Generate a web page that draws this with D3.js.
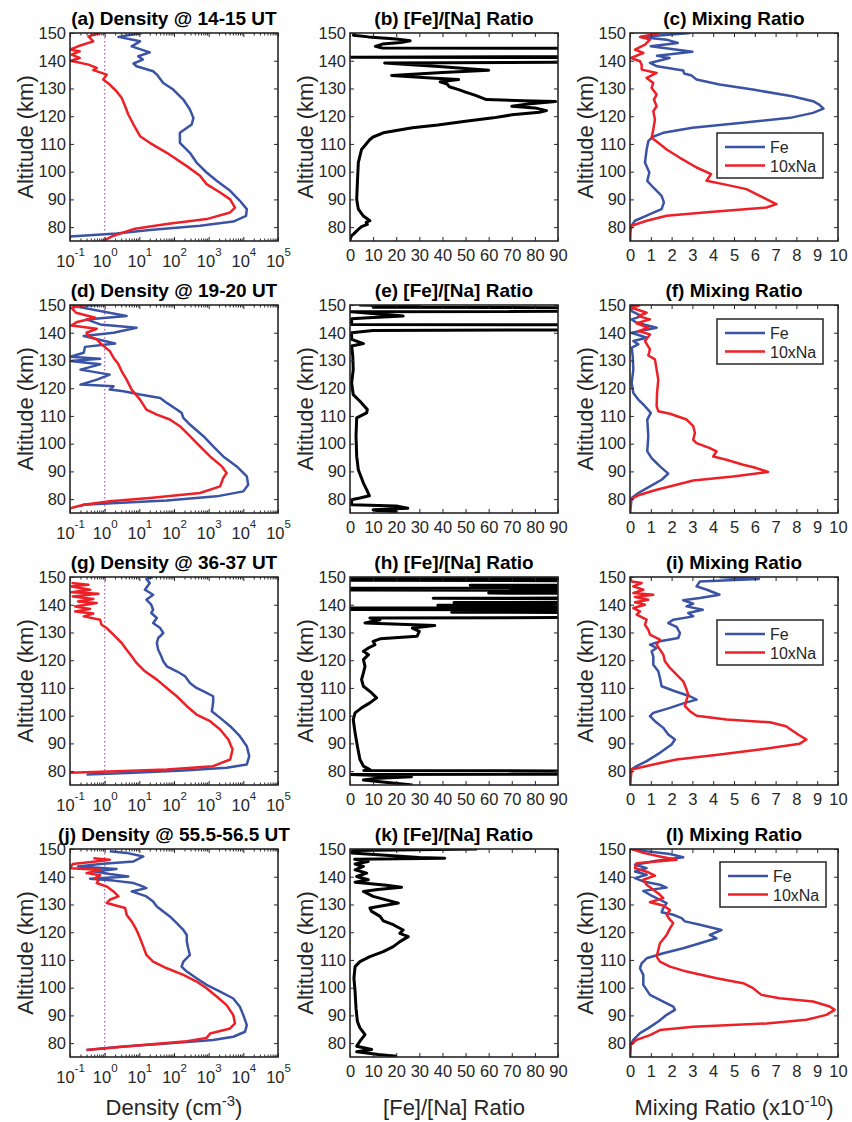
<!DOCTYPE html>
<html>
<head>
<meta charset="utf-8">
<script src="https://cdn.jsdelivr.net/npm/d3@7"></script>
<style>
body { margin: 0; background: #fff; }
text { font-family: "Liberation Sans", Arial, sans-serif; }
</style>
</head>
<body>
<div id="chart"></div>
<script>
// profiles: [altitude km, value]
const densA_Fe = [[150,12],[148.6,2.5],[147,10.5],[145.2,6],[143,20],[141.6,9.3],[140.4,12.6],[139,6.8],[138,8.3],[136.2,25],[135,32],[132,49],[129.6,95],[126,186],[122.4,288],[119.4,363],[117,324],[114,148],[110.4,148],[106.8,288],[103.3,447],[99.7,871],[96.7,1700],[93.1,4170],[89.5,7940],[86.5,12600],[84.1,12000],[82,5130],[80.5,562],[79,20],[77.7,2.2],[76.6,0.1]]
const densA_Na = [[150,0.74],[148.8,0.34],[147,0.47],[145.2,0.17],[144,0.1],[143.4,0.19],[142.2,0.11],[141,0.19],[140,0.105],[138.6,0.34],[137.4,0.59],[136.6,0.47],[135,1.15],[133.2,0.91],[131.4,1.4],[129,2.2],[126.6,3.1],[123.6,3.9],[120.6,4.8],[117,6.8],[112.8,10.5],[110.4,20],[106.8,62],[102,234],[98.5,562],[95.5,871],[92.5,2140],[90,4170],[87,5750],[85.3,4170],[82.9,871],[81.1,62],[79.3,6.8],[76.9,1.8],[74.7,0.81]]
const ratioB = [[150,2],[149.2,1.5],[148.6,8],[147.8,20],[147.2,26],[146.6,22],[146,14],[145.2,11],[144.6,14],[144.2,300],[143.6,300],[141.8,300],[141.3,0.5],[140.9,300],[140.2,300],[139.2,15],[137.8,40],[136.6,60],[135.8,40],[134.7,18],[133.8,35],[133.2,47],[132.4,39],[131.6,42],[130.6,43],[129.6,47],[128.7,50],[127.6,54],[127,56],[126,59],[125.6,75],[125.3,89],[124.5,78],[123.6,70],[123,80],[122,85],[121.4,82],[120.5,70],[119.4,62],[118.2,50],[116.8,38],[115.8,27],[114,14.4],[112.5,10],[111.6,8.6],[108,5],[103.3,3.6],[96,3.2],[90,2.9],[86.5,3.6],[84,5.8],[82.3,8.6],[81.7,7],[81,7.5],[80.2,5],[79.2,3.6],[77.5,1.5],[76.9,0.7],[76,0.2],[75,0]]
const mixC_Fe = [[150,2.9],[148.6,0.5],[147.6,1.76],[146.4,2.3],[145.2,1.0],[143.2,3.0],[141.8,1.3],[141,1.9],[139.2,0.96],[138,1.3],[136.5,2.56],[135.4,2.6],[134.7,2.96],[133.2,3.2],[131.4,4.3],[129.6,5.9],[127.2,7.8],[125.4,8.8],[124.2,9.1],[122.7,9.3],[121.2,8.8],[119.4,7.7],[117.6,5.4],[115.8,3.0],[114,1.6],[112.6,1.1],[111,0.88],[108,0.8],[103.3,0.72],[99.7,0.93],[96.7,0.83],[94.3,1.12],[91.3,1.52],[88.9,1.63],[86.5,1.52],[84.7,0.96],[82.3,0.24],[80,0.03],[75,0]]
const mixC_Na = [[150,1.44],[148.6,0.48],[147.6,0.96],[145.8,0.72],[144,0.24],[142.8,0.64],[141,0.05],[139.8,0.48],[138.6,0.56],[136.8,0.56],[135.6,1.28],[133.8,0.8],[132,1.12],[130.2,1.04],[127.8,1.28],[126,1.15],[123.6,1.28],[121.8,1.12],[118.8,1.2],[115.2,1.12],[112.2,1.04],[110.4,1.36],[108,1.76],[105,2.4],[101.5,3.2],[99.1,3.9],[96.7,3.68],[95.5,4.48],[93.7,5.6],[91.3,6.24],[89.5,6.72],[88.3,7.04],[87.1,6.56],[85.5,3.84],[84.1,1.76],[82.3,0.8],[80.5,0.08],[78,0],[75,0]]

const densD_Fe = [[150,0.74],[149.8,0.3],[149.6,0.13],[146,4.3],[144.8,0.3],[143,0.74],[141.8,8.3],[140,1.8],[138.8,0.25],[136.1,2],[134.9,0.27],[132.8,0.25],[131.3,0.1],[130.6,0.74],[129.8,0.1],[128.6,0.74],[126.7,0.2],[124.9,1.4],[123.1,0.6],[121.3,0.2],[120.7,1.8],[119.5,1.4],[118.9,3.5],[117.7,10.5],[116.5,40],[114.7,62],[112.3,120],[111.1,166],[109.3,186],[106.9,288],[102.7,708],[99,1350],[95.4,2630],[91.8,6460],[88.2,12600],[85.2,13800],[82.8,10000],[81,1700],[79.5,62],[78.6,2.2],[78,0.25],[77.5,0.2]]
const densD_Na = [[150,0.3],[149,0.11],[147.2,0.15],[145.4,0.53],[143.9,0.16],[142.6,0.11],[141.4,0.59],[140,0.3],[138.8,0.34],[137.6,0.59],[135.8,0.81],[133.4,1.4],[131,1.8],[128.6,2.5],[126.1,3.1],[123.1,4.3],[119.5,6],[115.9,10.5],[112.3,16],[110.5,32],[108.7,76],[106.3,148],[102.7,288],[99,562],[95.4,1100],[91.8,2400],[89.4,3300],[87.6,2630],[84.6,2140],[82.2,562],[80.4,20],[79.2,1.4],[78,0.25],[76.7,0.1]]
const ratioE = [[150,4],[149.6,30],[149.2,10],[148.6,300],[148,300],[147.6,0.5],[146.6,15],[146,23],[145.4,8],[145,0.7],[143,0.7],[142.6,300],[141.6,300],[140.8,10],[140,0.7],[137.6,0.7],[136.1,5.8],[135.2,0.7],[131.6,1.2],[126.7,1.4],[121.9,0.7],[117.7,1.4],[115.3,4.3],[112.3,7.5],[111.1,7.2],[109.3,2.9],[102.7,2.6],[95.4,2.9],[90.6,3.6],[85.8,5.8],[83.4,7.2],[81.2,8.4],[80.4,4.3],[79.8,0.7],[78,0.7],[77.5,20],[76.7,25],[76.2,10],[75.9,11.5],[75.5,20],[75.1,18.7]]
const mixF_Fe = [[150,0.08],[147.8,0.08],[146,0.56],[144.8,0.08],[143.6,0.32],[141.8,1.28],[140,0.08],[138.2,0.8],[137,0.16],[135.8,0.4],[134.6,0.08],[131.6,0.13],[126.7,0.16],[121.9,0.08],[118.3,0.16],[115.9,0.4],[113.5,0.72],[111.1,1.0],[108.7,0.83],[102.7,0.88],[97.2,0.83],[94.8,1.04],[91.8,1.44],[89.2,1.84],[87,1.52],[84.6,0.96],[82.2,0.4],[80.4,0.08],[75,0]]
const mixF_Na = [[150,0.48],[149,0.08],[147.2,0.8],[146,0.4],[144.8,0.96],[143.4,0.32],[141.8,0.88],[140.6,0.4],[139.4,0.96],[137,0.72],[134,0.96],[131.8,0.88],[130.4,1.2],[126.7,1.28],[123.1,1.36],[118.3,1.3],[113.5,1.28],[111.7,1.36],[110.8,1.92],[108.7,2.72],[106.3,3.04],[103.9,3.12],[101.4,3.04],[100.2,3.2],[98.4,3.84],[97.2,4.16],[95.4,4.0],[94.2,4.64],[92.4,5.44],[91.2,6.08],[89.8,6.64],[88.2,4.96],[86.7,3.04],[85.2,2.24],[83.4,1.28],[81.6,0.48],[80,0.03],[75,0]]

const densG_Fe = [[150,25],[149.3,16],[147.8,20],[145.4,14.5],[143.6,25],[141.8,16],[140,22],[138.2,25],[137,22],[135.2,32],[133.4,25],[131.6,40],[129.8,49],[128,35],[126.2,32],[123.8,35],[121.4,43],[119.6,49],[117.8,62],[116,120],[114.2,209],[111.8,288],[110,447],[108.2,871],[107,1350],[105.2,1350],[103.4,1300],[101.6,1230],[99.2,2140],[96.2,4170],[92.6,7940],[89,12600],[85.4,14800],[82.4,12600],[81.2,3300],[80.2,186],[79.4,6.8],[78.8,0.3]]
const densG_Na = [[147.8,0.11],[147.2,0.34],[146.6,0.11],[145.4,0.38],[144.5,0.11],[144,0.66],[143,0.12],[142.1,0.47],[141.2,0.17],[140.6,0.59],[139.4,0.14],[138.5,0.38],[137.6,0.14],[136.8,0.47],[135.8,0.25],[134.6,0.74],[132.8,0.81],[131.6,1.15],[128.6,2],[126.2,3.1],[123.8,4.3],[121.4,6],[119,8.3],[116,14.5],[113,32],[110,62],[107,120],[103.4,234],[100.4,447],[98,1100],[95,2140],[91.4,3700],[87.8,4900],[84.2,4170],[81.8,1350],[80.6,62],[80,2.2],[79.4,0.1]]
const ratioH = [[150,300],[149.6,0.5],[149.2,300],[148.8,0.5],[148.4,300],[147.4,300],[147,52],[146.4,300],[145.9,0.3],[145.3,0.3],[144.8,300],[144.2,60],[143.6,300],[142.8,300],[142.3,36],[141.8,300],[141.3,300],[140.8,45],[140.3,300],[139.8,38],[139.3,300],[138.8,0.3],[138.3,0.3],[137.8,300],[137.3,44],[136.8,300],[135.8,300],[135.2,8.6],[134.6,13],[133.4,6.5],[132.5,36.7],[131.6,27],[130.4,30],[128.6,29],[127.7,13],[126.8,10],[125.6,10.8],[124.4,8],[123.2,5.8],[122,8],[120.2,5.8],[117.8,6.5],[115.4,5.8],[113,5],[110.6,5.8],[108.2,9.4],[106.4,11.5],[104.6,8.6],[102.8,5],[101,2.2],[98.6,1.4],[93.8,2.2],[89,3.2],[84.2,4.3],[81.8,5.8],[80.6,8.6],[80.2,6],[79.8,300],[79.2,300],[78.8,0.5],[78,26.6],[77.3,10],[76.8,5.8],[75.8,17.3],[75,27]]
const mixI_Fe = [[150,4.3],[149.3,6.2],[148.4,3.36],[146.6,3.2],[145.4,3.7],[143.6,4.3],[142.4,3.36],[141.6,2.56],[140.4,3.04],[139.4,2.72],[138.2,3.5],[137,2.8],[135.8,3.04],[134.6,2.08],[133.4,1.84],[132,2.24],[129.8,2.4],[128,2.32],[126.8,1.44],[125.6,0.96],[124.4,1.28],[123.2,1.04],[121.4,1.12],[118.4,1.12],[116,1.36],[113.6,1.44],[110.6,1.52],[108.8,2.16],[107,2.88],[105.8,3.2],[104.6,2.64],[102.8,1.92],[101,1.12],[99.8,0.96],[98,1.2],[95.6,1.6],[93.2,1.84],[91.4,2.16],[89.6,2.0],[86.6,1.44],[83.6,0.8],[81.8,0.32],[80.6,0.05],[75,0]]
const mixI_Na = [[150,0],[148.4,0.08],[147.8,0.56],[146.6,0.16],[145.4,0.64],[144.2,0.16],[143.6,1.12],[142.8,0.24],[141.8,0.88],[140.9,0.24],[140,0.72],[138.8,0.16],[137.6,0.48],[136.4,0.32],[134.6,0.8],[132.8,0.72],[131,0.88],[129.2,0.96],[127.4,1.44],[125.6,1.28],[123.8,1.44],[122,1.6],[119.6,1.68],[117.2,1.92],[114.8,2.24],[112.4,2.56],[110,2.69],[107.6,2.8],[105.8,2.72],[103.4,2.64],[101.6,2.88],[100,3.2],[98.6,4.64],[97.6,6.72],[96.2,7.5],[93.2,8.08],[91.4,8.48],[89.9,8.16],[87.8,6.24],[86,4.32],[84.2,2.24],[82.4,1.12],[80.6,0.08],[75,0]]

const densJ_Fe = [[149.2,1.4],[148.6,4.3],[147.3,13],[145.5,6.8],[144.6,0.74],[143.7,0.17],[142.8,2.2],[141.9,0.5],[141,1.4],[140.1,4.8],[139.3,0.38],[138.6,1.8],[137.7,6.8],[136.9,10.5],[135.9,16],[134.7,6],[132.9,16],[131.1,25],[129.3,32],[127.5,49],[125.7,76],[123.3,120],[120.8,186],[119,234],[116.6,234],[114.2,257],[111.8,288],[109.4,186],[107.6,166],[105.8,234],[103.4,447],[101,871],[98.6,2140],[96.1,5130],[93.1,7940],[90.1,10000],[86.5,12600],[84.1,11200],[82.3,5130],[81.1,1350],[79.9,62],[78.7,2.8],[77.5,0.3]]
const densJ_Na = [[146.7,0.47],[146.1,1.4],[145.5,0.55],[144.6,0.12],[143.1,0.1],[142.5,0.74],[141.3,0.3],[140.5,0.74],[139.5,0.53],[138.6,0.66],[137.7,0.59],[136.5,1.15],[134.7,1.8],[132.9,2.5],[131.7,1.4],[130.5,1.15],[128.7,3.9],[126.3,4.3],[123.9,6],[120.8,8.3],[117.8,10.5],[114.8,13],[111.8,16],[109.4,25],[107,62],[104.6,186],[102.2,447],[99.8,871],[96.8,1700],[93.7,3300],[90.1,5130],[87.1,5750],[85.3,4170],[83.5,1100],[81.9,871],[80.7,234],[79.2,10.5],[78,0.74],[77.5,0.3]]
const ratioK = [[150,55],[149.5,2],[149,0.7],[148.6,0.7],[146.9,30],[146.7,41],[146.3,2],[145.5,7.9],[144.6,2.2],[143.7,5.8],[142.5,2.2],[141.3,7.2],[140.1,2.9],[138.9,7.9],[138,2.2],[136.9,15.8],[136.2,22.3],[135.4,12],[134.7,5.8],[132.9,10],[130.5,20.9],[128.7,8.6],[127.5,9.4],[125.7,13],[124.1,14.4],[122.7,18.7],[120.8,23],[119.6,21.6],[118.4,25.2],[116.6,21.6],[114.8,18.7],[113,14.4],[111.2,8.6],[109.4,4.3],[107.6,2.2],[103.4,1.7],[98.6,2.2],[92.6,2.6],[87.8,3.2],[85.5,4.3],[83.1,6.5],[80.7,4.3],[78.9,2.9],[77.7,9.4],[76.9,2.9],[75.9,12.2],[75.3,20.2]]
const mixL_Fe = [[150,0.08],[149.2,0.8],[148.2,1.92],[147,2.56],[145.8,1.28],[144.3,0.24],[143.1,0.8],[141.9,0.24],[140.7,0.8],[139.5,0.24],[138.3,0.64],[137.1,1.44],[136.1,1.76],[134.9,0.64],[133.5,0.96],[131.7,1.44],[130.5,1.76],[128.7,1.6],[127.2,1.52],[126.3,2.08],[125.1,2.48],[123.9,2.64],[122.7,3.36],[120.8,4.4],[119,3.84],[117.8,4.16],[116,3.36],[114.2,2.56],[112.4,1.6],[110.6,0.8],[108.8,0.56],[107,0.48],[104.6,0.64],[101,0.64],[97.4,0.96],[95,1.6],[93.2,2.08],[92,2.16],[90.2,1.76],[87.8,1.36],[85.4,0.88],[83.6,0.48],[81.2,0.16],[79.4,0.03],[75,0]]
const mixL_Na = [[150,0.08],[148.6,0.64],[147.3,1.44],[146.1,2.24],[144.9,0.32],[143.1,0.24],[141.6,0.88],[140.4,1.2],[138.9,0.64],[137.1,0.8],[135.3,1.12],[133.5,1.44],[132.3,1.6],[130.8,0.96],[129.6,1.6],[128,1.92],[126.3,1.76],[124.5,1.92],[123.3,2.08],[121.4,1.92],[119,1.76],[116,1.44],[113.6,1.36],[111.2,1.28],[109.4,1.44],[107.6,1.92],[105.8,2.72],[103.4,4.16],[101.6,5.44],[99.8,5.92],[97.4,6.32],[96.2,7.2],[95,8.8],[93.2,9.6],[92,9.84],[90.2,9.44],[88.4,8.48],[87.1,6.56],[85.9,3.04],[84.7,1.44],[82.9,0.96],[81.2,0.32],[79.4,0.03],[75,0]]

const timeLabels = ["14-15", "19-20", "36-37", "55.5-56.5"]
const letters = ["a","b","c","d","e","f","g","h","i","j","k","l"]
const legendNames = ["Fe", "10xNa"]
const altTicks = [80, 90, 100, 110, 120, 130, 140, 150]
const densTicks = [0.1, 1, 10, 100, 1e3, 1e4, 1e5]
const ratioTicks = [0, 10, 20, 30, 40, 50, 60, 70, 80, 90]
const mixTicks = [0, 1, 2, 3, 4, 5, 6, 7, 8, 9, 10]

const BLUE = "#3a53a4", RED = "#ee2027", INK = "#262626"
const W = 208, H = 208
const colX = [70, 350, 630]
const rowY = [33, 305, 577, 849]
const legendPos = [[87, 100], [87, 14], [87, 43], [90, 13]]

const rows = [
    {dens: [densA_Fe, densA_Na], ratio: ratioB, mix: [mixC_Fe, mixC_Na]},
    {dens: [densD_Fe, densD_Na], ratio: ratioE, mix: [mixF_Fe, mixF_Na]},
    {dens: [densG_Fe, densG_Na], ratio: ratioH, mix: [mixI_Fe, mixI_Na]},
    {dens: [densJ_Fe, densJ_Na], ratio: ratioK, mix: [mixL_Fe, mixL_Na]}
]

const svg = d3.select("#chart")
    .append("svg")
    .attr("width", 852)
    .attr("height", 1122)

const minorTicks = []
for (let e = -1; e < 5; e++) for (let m = 2; m < 10; m++) minorTicks.push(m * Math.pow(10, e))

function styleAxis(g) {
    g.select(".domain").remove()
    g.attr("font-family", "'Liberation Sans', Arial, sans-serif").attr("font-size", 16.5)
    g.selectAll(".tick line").attr("stroke", INK).attr("stroke-width", 1)
    g.selectAll(".tick text").attr("fill", INK)
}

function drawPanel(r, c, kind, title, series) {
    const left = colX[c], top = rowY[r]
    const y = d3.scaleLinear().domain([75, 150]).range([top + H, top])
    let x, ticks
    if (kind === "dens") { x = d3.scaleLog().domain([0.1, 1e5]).range([left, left + W]); ticks = densTicks }
    else if (kind === "ratio") { x = d3.scaleLinear().domain([0, 90]).range([left, left + W]); ticks = ratioTicks }
    else { x = d3.scaleLinear().domain([0, 10]).range([left, left + W]); ticks = mixTicks }

    const g = svg.append("g")
    const id = "clip" + r + c
    g.append("clipPath").attr("id", id)
        .append("rect").attr("x", left).attr("y", top).attr("width", W).attr("height", H)
    const plot = g.append("g").attr("clip-path", `url(#${id})`)

    if (kind === "dens") {
        plot.append("line")
            .attr("x1", x(1)).attr("x2", x(1))
            .attr("y1", top).attr("y2", top + H)
            .attr("stroke", "#c65bc6").attr("stroke-width", 1.3)
            .attr("stroke-dasharray", "1.5,2.5")
    }

    const line = d3.line().x(d => x(d[1])).y(d => y(d[0]))
    series.forEach(s => {
        plot.append("path")
            .attr("d", line(s.data))
            .attr("fill", "none")
            .attr("stroke", s.color)
            .attr("stroke-width", s.width)
            .attr("stroke-linejoin", "round")
    })

    // bottom axis
    const bot = g.append("g")
        .attr("transform", `translate(0, ${top + H})`)
        .call(d3.axisBottom(x).tickValues(ticks).tickSizeInner(-4).tickSizeOuter(0).tickPadding(8)
            .tickFormat(kind === "dens" ? () => "" : d => String(d)))
    styleAxis(bot)
    if (kind === "dens") {
        bot.selectAll(".tick text")
            .attr("y", 26).attr("dy", 0)
            .each(function(d) {
                const t = d3.select(this)
                t.append("tspan").text("10")
                t.append("tspan").attr("dy", -11).attr("font-size", 11.5).text(String(Math.round(Math.log10(d))))
            })
        const botMinor = g.append("g").attr("transform", `translate(0, ${top + H})`)
            .call(d3.axisBottom(x).tickValues(minorTicks).tickSizeInner(-2.5).tickSizeOuter(0).tickFormat(""))
        styleAxis(botMinor)
        const topMinor = g.append("g").attr("transform", `translate(0, ${top})`)
            .call(d3.axisTop(x).tickValues(minorTicks).tickSizeInner(-2.5).tickSizeOuter(0).tickFormat(""))
        styleAxis(topMinor)
    }
    const topAx = g.append("g").attr("transform", `translate(0, ${top})`)
        .call(d3.axisTop(x).tickValues(ticks).tickSizeInner(-4).tickSizeOuter(0).tickFormat(""))
    styleAxis(topAx)

    const leftAx = g.append("g").attr("transform", `translate(${left}, 0)`)
        .call(d3.axisLeft(y).tickValues(altTicks).tickSizeInner(-4).tickSizeOuter(0).tickPadding(4))
    styleAxis(leftAx)
    const rightAx = g.append("g").attr("transform", `translate(${left + W}, 0)`)
        .call(d3.axisRight(y).tickValues(altTicks).tickSizeInner(-4).tickSizeOuter(0).tickFormat(""))
    styleAxis(rightAx)

    g.append("rect")
        .attr("x", left).attr("y", top).attr("width", W).attr("height", H)
        .attr("fill", "none").attr("stroke", INK).attr("stroke-width", 1.6)

    g.append("text")
        .attr("transform", `translate(${left - 37}, ${top + H / 2}) rotate(-90)`)
        .attr("text-anchor", "middle")
        .attr("font-size", 22)
        .attr("fill", INK)
        .text("Altitude (km)")

    g.append("text")
        .attr("x", left + W / 2).attr("y", top - 8)
        .attr("text-anchor", "middle")
        .attr("font-size", 19)
        .attr("font-weight", "bold")
        .attr("fill", "#000")
        .text(title)
}

function drawLegend(r) {
    const lg = svg.append("g")
        .attr("transform", `translate(${colX[2] + legendPos[r][0]}, ${rowY[r] + legendPos[r][1]})`)
    lg.append("rect")
        .attr("width", 106).attr("height", 45)
        .attr("fill", "#fff").attr("stroke", INK).attr("stroke-width", 1.5)
    legendNames.forEach((name, i) => {
        const yy = 14 + 18.5 * i
        lg.append("line")
            .attr("x1", 8).attr("x2", 48).attr("y1", yy).attr("y2", yy)
            .attr("stroke", i === 0 ? BLUE : RED).attr("stroke-width", 2.5)
        lg.append("text")
            .attr("x", 53).attr("y", yy + 6)
            .attr("font-size", 16).attr("fill", INK)
            .text(name)
    })
}

rows.forEach((row, r) => {
    drawPanel(r, 0, "dens", `(${letters[r * 3]}) Density @ ${timeLabels[r]} UT`, [
        {data: row.dens[0], color: BLUE, width: 2.5},
        {data: row.dens[1], color: RED, width: 2.5}
    ])
    drawPanel(r, 1, "ratio", `(${letters[r * 3 + 1]}) [Fe]/[Na] Ratio`, [
        {data: row.ratio, color: "#000", width: 3}
    ])
    drawPanel(r, 2, "mix", `(${letters[r * 3 + 2]}) Mixing Ratio`, [
        {data: row.mix[0], color: BLUE, width: 2.5},
        {data: row.mix[1], color: RED, width: 2.5}
    ])
    drawLegend(r)
})

// bottom axis titles
const xTitleY = 1115
const t1 = svg.append("text").attr("x", colX[0] + W / 2).attr("y", xTitleY)
    .attr("text-anchor", "middle").attr("font-size", 22).attr("fill", INK)
t1.append("tspan").text("Density (cm")
t1.append("tspan").attr("dy", -9).attr("font-size", 15).text("-3")
t1.append("tspan").attr("dy", 9).text(")")

svg.append("text").attr("x", colX[1] + W / 2).attr("y", xTitleY)
    .attr("text-anchor", "middle").attr("font-size", 22).attr("fill", INK)
    .text("[Fe]/[Na] Ratio")

const t3 = svg.append("text").attr("x", colX[2] + W / 2).attr("y", xTitleY)
    .attr("text-anchor", "middle").attr("font-size", 22).attr("fill", INK)
t3.append("tspan").text("Mixing Ratio (x10")
t3.append("tspan").attr("dy", -9).attr("font-size", 15).text("-10")
t3.append("tspan").attr("dy", 9).text(")")
</script>
</body>
</html>
